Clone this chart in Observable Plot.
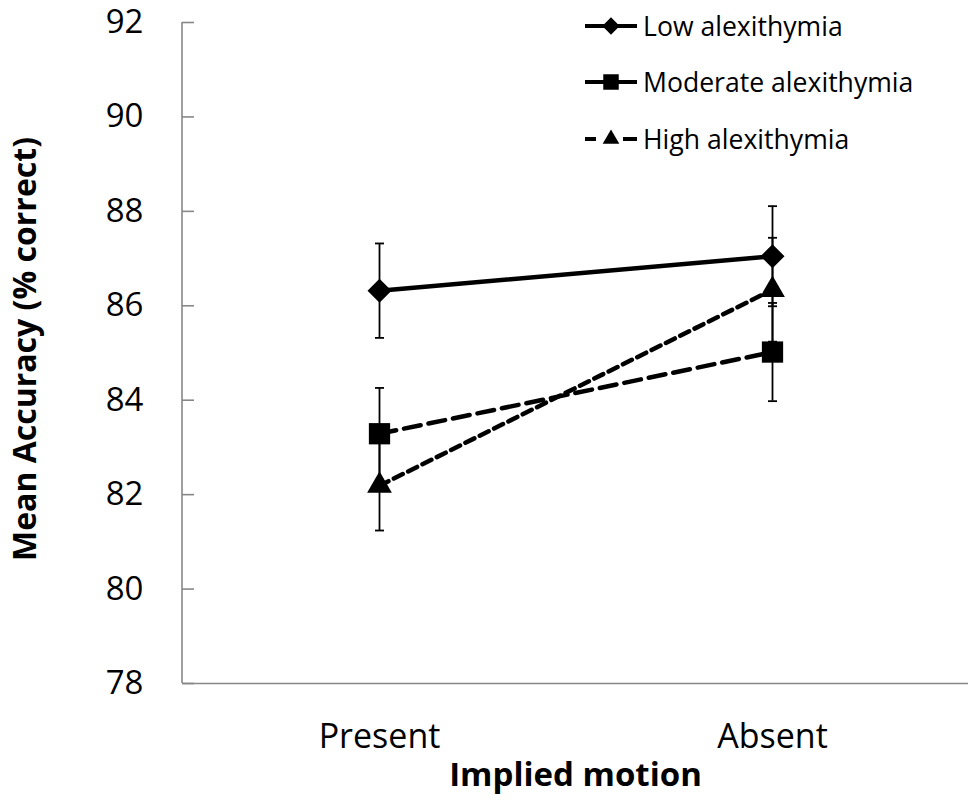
<!DOCTYPE html>
<html>
<head>
<meta charset="utf-8">
<script src="https://cdn.jsdelivr.net/npm/d3@7"></script>
<script src="https://cdn.jsdelivr.net/npm/@observablehq/plot@0.6"></script>
<style>
  html, body { margin: 0; padding: 0; background: #fff; }
  #wrap { position: relative; width: 975px; height: 804px; font-family: "Open Sans", Lato, sans-serif; }
  #wrap svg { overflow: visible; }
  #legend { position: absolute; left: 585px; top: 0px; }
  .row { position: absolute; left: 0; height: 40px; display: flex; align-items: center; white-space: nowrap; font-size: 26.6px; color: #000; }
  .row svg { display: block; margin-right: 6px; }
</style>
</head>
<body>
<div id="wrap"><div id="legend"></div></div>
<script>
const conditions = ["Present", "Absent"];
const groups = ["Low alexithymia", "Moderate alexithymia", "High alexithymia"];
const lowMeans = [86.32, 87.05];
const lowErr = [1.0, 1.06];
const moderateMeans = [83.29, 85.02];
const moderateErr = [0.97, 1.04];
const highMeans = [82.19, 86.34];
const highErr = [0.95, 1.1];
const yTicks = [78, 80, 82, 84, 86, 88, 90, 92];

const FONT = "Open Sans";
const AXIS = "#878787";

const series = [
  {group: groups[0], means: lowMeans, err: lowErr, symbol: "diamond2", r: 10.8, dash: null},
  {group: groups[1], means: moderateMeans, err: moderateErr, symbol: "square", r: 12, dash: "17,8"},
  {group: groups[2], means: highMeans, err: highErr, symbol: "triangle", r: 9.2, dash: "10,6"}
];
const rows = series.flatMap(s => conditions.map((c, i) => ({
  group: s.group, condition: c, mean: s.means[i], lo: s.means[i] - s.err[i], hi: s.means[i] + s.err[i]
})));

const capSymbol = {draw(ctx) { ctx.moveTo(-4.5, 0); ctx.lineTo(4.5, 0); }};

// y-axis domain line drawn from the y scale
const yAxisLine = (index, scales, values, dimensions) => {
  const [y0, y1] = scales.y.domain ? scales.y.domain() : [78, 92];
  return d3.create("svg:line")
    .attr("x1", dimensions.marginLeft).attr("x2", dimensions.marginLeft)
    .attr("y1", scales.y(y0)).attr("y2", scales.y(y1))
    .attr("stroke", AXIS).attr("stroke-width", 1.6).node();
};

const marks = [
  Plot.ruleY([78], {stroke: AXIS, strokeWidth: 1.6}),
  yAxisLine,
  Plot.axisY({ticks: yTicks, tickSize: 0, tickPadding: 39, fontSize: 33, label: null, fontFamily: FONT}),
  Plot.tickY(yTicks, {y: d => d, stroke: AXIS, strokeWidth: 1.6, insetRight: 774}),
  Plot.axisX({tickSize: 0, tickPadding: 40, fontSize: 34, label: null, fontFamily: FONT}),
  Plot.text(["Implied motion"], {frameAnchor: "bottom", dy: 102, fontSize: 33, fontWeight: "bold", fontFamily: FONT, text: d => d}),
  Plot.text(["Mean Accuracy (% correct)"], {frameAnchor: "left", textAnchor: "middle", dx: -157, dy: -4, rotate: -90, fontSize: 32, fontWeight: "bold", fontFamily: FONT, text: d => d})
];
for (const s of series) {
  const data = rows.filter(d => d.group === s.group);
  marks.push(Plot.line(data, {x: "condition", y: "mean", stroke: "black", strokeWidth: 4.5, strokeDasharray: s.dash}));
}
for (const s of series) {
  const data = rows.filter(d => d.group === s.group);
  marks.push(Plot.ruleX(data, {x: "condition", y1: "lo", y2: "hi", stroke: "black", strokeWidth: 1.8}));
  marks.push(Plot.dot(data, {x: "condition", y: "lo", symbol: capSymbol, r: 1, stroke: "black", fill: "none", strokeWidth: 1.8}));
  marks.push(Plot.dot(data, {x: "condition", y: "hi", symbol: capSymbol, r: 1, stroke: "black", fill: "none", strokeWidth: 1.8}));
  marks.push(Plot.dot(data, {x: "condition", y: "mean", symbol: s.symbol, r: s.r, fill: "black", stroke: "none"}));
}

const chart = Plot.plot({
  width: 975,
  height: 804,
  marginLeft: 182,
  marginRight: 7,
  marginTop: 22,
  marginBottom: 121,
  style: {fontFamily: FONT, color: "#000", background: "#fff"},
  x: {type: "point", domain: conditions, padding: 0.5},
  y: {domain: [78, 92]},
  marks
});
document.getElementById("wrap").prepend(chart);

// legend
const legend = document.getElementById("legend");
const legendTops = [6, 62, 119];
series.forEach((s, i) => {
  const row = document.createElement("div");
  row.className = "row";
  row.style.top = legendTops[i] + "px";
  const svg = d3.create("svg").attr("width", 52).attr("height", 40);
  if (i === 2) {
    svg.append("line").attr("x1", 0).attr("x2", 11).attr("y1", 20).attr("y2", 20).attr("stroke", "black").attr("stroke-width", 4);
    svg.append("line").attr("x1", 38).attr("x2", 52).attr("y1", 20).attr("y2", 20).attr("stroke", "black").attr("stroke-width", 4);
  } else {
    svg.append("line").attr("x1", 0).attr("x2", 52).attr("y1", 20).attr("y2", 20).attr("stroke", "black").attr("stroke-width", 4);
  }
  const sym = {diamond2: d3.symbolDiamond2, square: d3.symbolSquare, triangle: d3.symbolTriangle}[s.symbol];
  const size = {diamond2: 190, square: 240, triangle: 120}[s.symbol];
  svg.append("path").attr("d", d3.symbol(sym, size)()).attr("transform", "translate(26,20)").attr("fill", "black");
  row.appendChild(svg.node());
  const label = document.createElement("span");
  label.textContent = s.group;
  row.appendChild(label);
  legend.appendChild(row);
});
</script>
</body>
</html>
